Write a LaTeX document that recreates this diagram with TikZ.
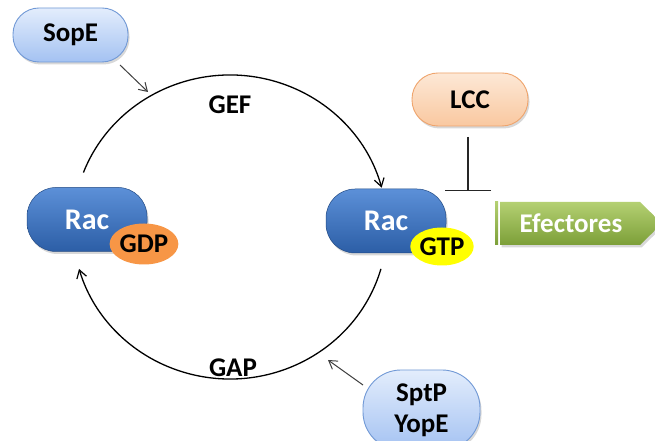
\documentclass[tikz,border=0pt]{standalone}
\usepackage{fontspec}
\setmainfont{Carlito}
\usetikzlibrary{arrows.meta,shadows,shapes.geometric}
\definecolor{lbTop}{HTML}{E3EDFC}
\definecolor{lbBot}{HTML}{A4C2F2}
\definecolor{lbLine}{HTML}{7199D6}
\definecolor{racTop}{HTML}{5C90D8}
\definecolor{racBot}{HTML}{2C5EA6}
\definecolor{gdpC}{HTML}{F79646}
\definecolor{gtpC}{HTML}{FFFF00}
\definecolor{lccTop}{HTML}{FDE8D6}
\definecolor{lccBot}{HTML}{F9C8A0}
\definecolor{lccLine}{HTML}{EFA46C}
\definecolor{grTop}{HTML}{B4D072}
\definecolor{grBot}{HTML}{7C9F38}
\begin{document}
\begin{tikzpicture}[x=1pt,y=1pt,
  shad/.style={drop shadow={opacity=0.3,shadow xshift=1.5pt,shadow yshift=-2.5pt}},
  lightpill/.style={rectangle, rounded corners=26pt, top color=lbTop, bottom color=lbBot,
    draw=lbLine, line width=0.9pt, shad, inner sep=0pt, font=\fontsize{27}{31}\selectfont\bfseries},
  racbox/.style={rectangle, rounded corners=29pt, top color=racTop, bottom color=racBot,
    draw=racBot!80!black, line width=0.5pt, shad, minimum width=120pt, minimum height=64pt,
    text=white, font=\fontsize{30}{32}\selectfont\bfseries, inner sep=0pt},
  nuc/.style={ellipse, inner sep=0pt, font=\fontsize{27}{30}\selectfont\bfseries, text=black},
  lbl/.style={font=\fontsize{27}{30}\selectfont\bfseries, text=black},
  circ/.style={line width=1.3pt, draw=black},
  arrtip/.style={-{Straight Barb[length=8pt,width=10pt,line width=1.2pt]}},
  arr/.style={-{Straight Barb[length=8pt,width=10pt]}, line width=1pt, draw=black!75},
  inh/.style={-{Bar[width=46pt,line width=1.2pt]}, line width=1.2pt, draw=black!85}
]
\clip (0,0) rectangle (655,441);
\fill[white] (0,0) rectangle (655,441);

% cycle
\coordinate (cc) at (230,214);
\draw[circ,arrtip] (cc) ++(159:157 and 152) arc[start angle=159,end angle=15,x radius=157,y radius=152];
\draw[circ,arrtip] (cc) ++(-16:157 and 152) arc[start angle=-16,end angle=-164,x radius=157,y radius=152];

\node[lbl] (gef) at (230,336) {GEF};
\node[lbl] (gap) at (233,73) {GAP};

% Rac nodes
\node[racbox] (rac1) at (87,221.5) {Rac};
\node[nuc, fill=gdpC, minimum width=57pt, minimum height=41pt] (gdp) at (144,197) {GDP};
\node[racbox] (rac2) at (386,220) {Rac};
\node[nuc, fill=gtpC, minimum width=56pt, minimum height=38pt] (gtp) at (442,194.5) {GTP};

% SopE
\node[lightpill, minimum width=115pt, minimum height=54pt] (sope) at (70.5,406) {SopE};
\coordinate (sopeTail) at (120,376);
\coordinate (gefIn) at (148,349);
\draw[arr] (sopeTail) -- (gefIn);

% SptP / YopE
\node[lightpill, rounded corners=38pt, minimum width=117pt, minimum height=80pt, align=center,
  font=\fontsize{27}{31}\selectfont\bfseries] (sptp) at (421.5,31) {SptP\\YopE};
\coordinate (sptpTail) at (363,56);
\coordinate (gapIn) at (328,81);
\draw[arr] (sptpTail) -- (gapIn);

% LCC
\node[rectangle, rounded corners=26pt, top color=lccTop, bottom color=lccBot, draw=lccLine,
  line width=0.9pt, shad, minimum width=116pt, minimum height=53pt, inner sep=0pt,
  font=\fontsize{27}{31}\selectfont\bfseries] (lcc) at (470,341.5) {LCC};
\coordinate (inhTop) at (468,304);
\coordinate (inhBar) at (468,250);
\draw[inh] (inhTop) -- (inhBar);

% Efectores
\fill[top color=grTop, bottom color=grBot] (495,196) rectangle (498,239);
\path[top color=grTop, bottom color=grBot, shad] (500,196) -- (640,196) -- (662,217.5) -- (640,239) -- (500,239) -- cycle;
\node[font=\fontsize{27}{31}\selectfont\bfseries, text=white] (efe) at (571,218) {Efectores};
\end{tikzpicture}
\end{document}
